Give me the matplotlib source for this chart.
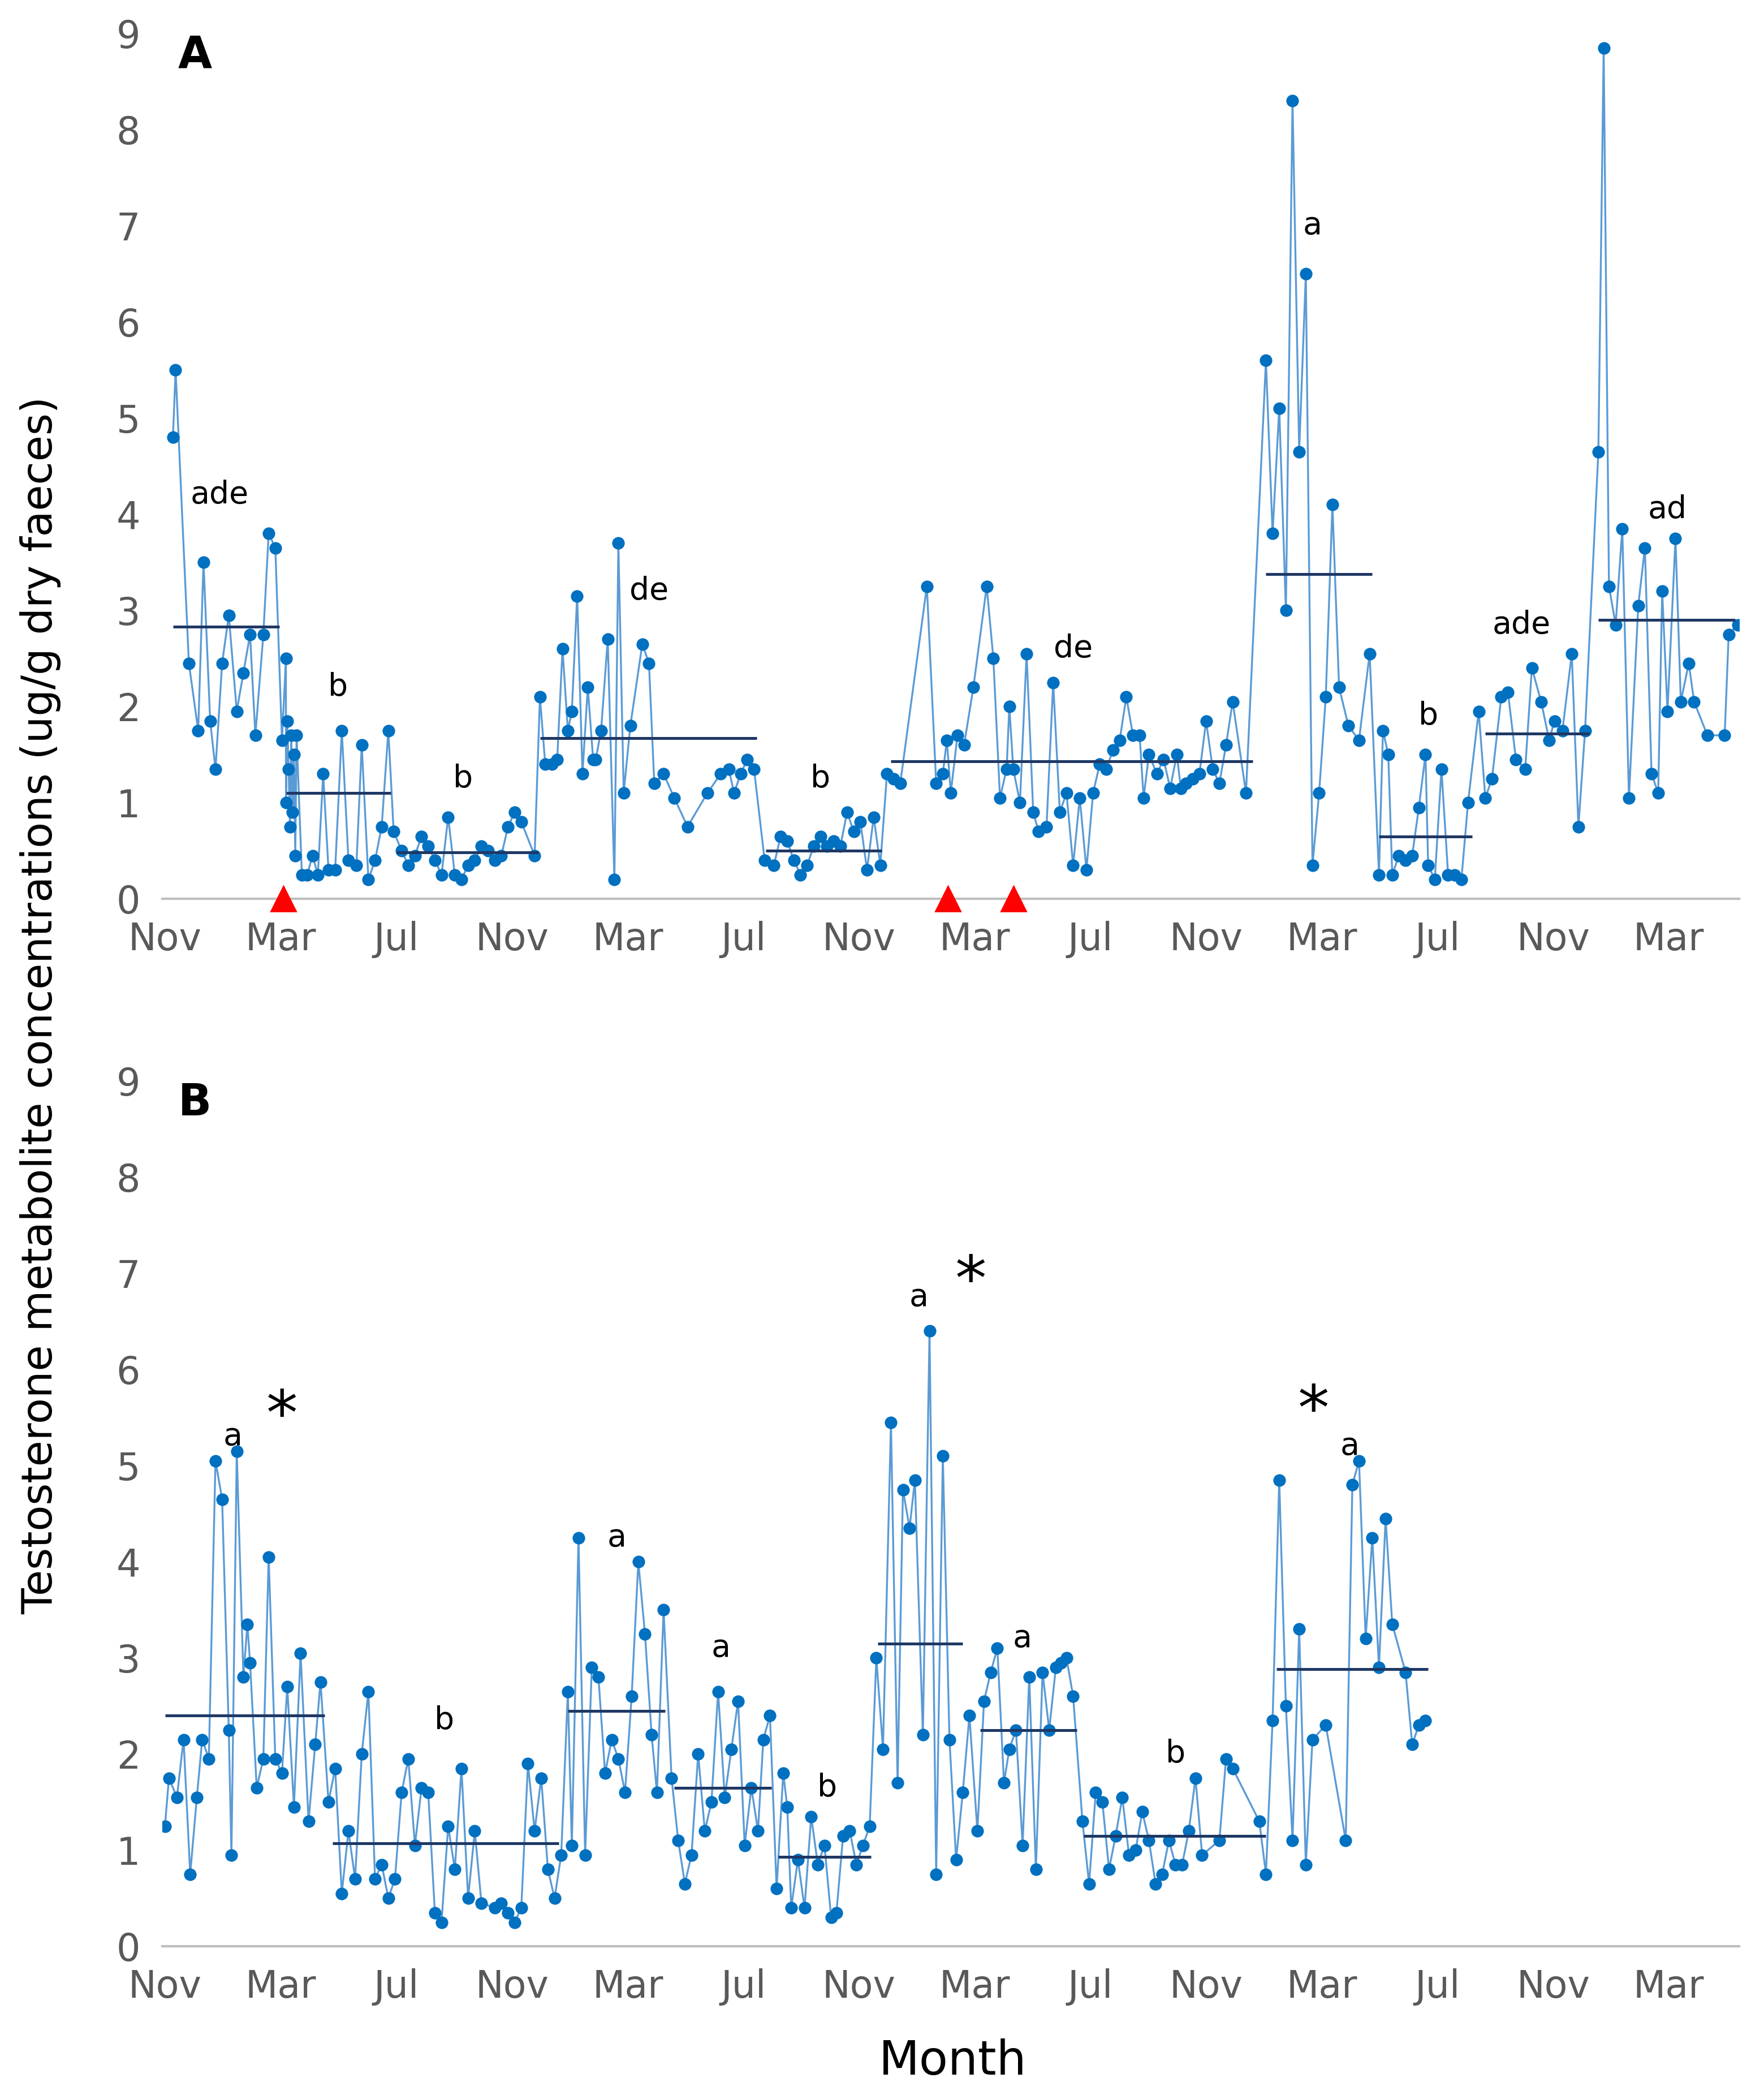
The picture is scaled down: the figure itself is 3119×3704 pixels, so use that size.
import matplotlib
matplotlib.use("Agg")
import matplotlib.pyplot as plt
import numpy as np

# x positions are on a sample-position scale (one tick interval = 4 months = 87 units, Nov at 122)
a_x = [128,130,140,147,151,156,160,165,170,176,181,186,190,196,200,205,210,213,213,214,215,216,217,218,219,220,221,225,229,233,237,241,245,250,255,260,266,270,275,280,285,290,294,300,305,310,315,320,325,330,335,340,345,350,355,360,365,370,375,380,385,390,400,404,408,413,417,421,425,428,432,436,440,444,446,450,455,460,463,467,472,481,486,490,497,505,515,530,540,546,550,555,560,565,573,580,585,590,595,600,605,610,615,620,625,630,635,640,645,650,655,660,665,670,675,695,702,707,710,713,718,723,730,740,745,750,755,757,760,765,770,775,779,785,790,795,800,805,810,815,820,825,830,835,840,845,850,855,858,862,868,873,878,883,886,890,895,900,905,910,915,920,925,935,950,955,960,965,970,975,980,985,990,995,1000,1005,1012,1020,1028,1035,1038,1042,1045,1050,1055,1060,1065,1070,1072,1077,1082,1087,1092,1097,1102,1110,1115,1120,1127,1132,1138,1145,1150,1157,1163,1167,1173,1180,1185,1190,1200,1204,1208,1213,1218,1223,1230,1235,1240,1245,1248,1252,1258,1262,1268,1272,1282,1295,1298,1305]
a_y = [4.8,5.5,2.45,1.75,3.5,1.85,1.35,2.45,2.95,1.95,2.35,2.75,1.7,2.75,3.8,3.65,1.65,2.5,1.0,1.85,1.35,0.75,1.7,0.9,1.5,0.45,1.7,0.25,0.25,0.45,0.25,1.3,0.3,0.3,1.75,0.4,0.35,1.6,0.2,0.4,0.75,1.75,0.7,0.5,0.35,0.45,0.65,0.55,0.4,0.25,0.85,0.25,0.2,0.35,0.4,0.55,0.5,0.4,0.45,0.75,0.9,0.8,0.45,2.1,1.4,1.4,1.45,2.6,1.75,1.95,3.15,1.3,2.2,1.45,1.45,1.75,2.7,0.2,3.7,1.1,1.8,2.65,2.45,1.2,1.3,1.05,0.75,1.1,1.3,1.35,1.1,1.3,1.45,1.35,0.4,0.35,0.65,0.6,0.4,0.25,0.35,0.55,0.65,0.55,0.6,0.55,0.9,0.7,0.8,0.3,0.85,0.35,1.3,1.25,1.2,3.25,1.2,1.3,1.65,1.1,1.7,1.6,2.2,3.25,2.5,1.05,1.35,2.0,1.35,1.0,2.55,0.9,0.7,0.75,2.25,0.9,1.1,0.35,1.05,0.3,1.1,1.4,1.35,1.55,1.65,2.1,1.7,1.7,1.05,1.5,1.3,1.45,1.15,1.5,1.15,1.2,1.25,1.3,1.85,1.35,1.2,1.6,2.05,1.1,5.6,3.8,5.1,3.0,8.3,4.65,6.5,0.35,1.1,2.1,4.1,2.2,1.8,1.65,2.55,0.25,1.75,1.5,0.25,0.45,0.4,0.45,0.95,1.5,0.35,0.2,1.35,0.25,0.25,0.2,1.0,1.95,1.05,1.25,2.1,2.15,1.45,1.35,2.4,2.05,1.65,1.85,1.75,2.55,0.75,1.75,4.65,8.85,3.25,2.85,3.85,1.05,3.05,3.65,1.3,1.1,3.2,1.95,3.75,2.05,2.45,2.05,1.7,1.7,2.75,2.85]
a_mean_start = [128,213,296,404,574,668,950,1035,1115,1200]
a_mean_end = [208,292,403,567,661,940,1030,1105,1193,1303]
a_mean = [2.83,1.1,0.48,1.67,0.5,1.43,3.38,0.65,1.72,2.9]
a_lab = ["ade","b","b","de","b","de","a","b","ade","ad"]
a_lab_x = [163,252,346,486,615,805,985,1072,1142,1252]
a_lab_y = [4.2,2.2,1.25,3.2,1.25,2.6,7.0,1.9,2.85,4.05]
tri_x = [211,711,760]

b_x = [122,125,131,136,141,146,150,155,160,165,170,172,176,181,184,186,191,196,200,205,210,214,219,224,230,235,239,245,250,255,260,265,270,275,280,285,290,295,300,305,310,315,320,325,330,335,340,345,350,355,360,370,375,380,385,390,395,400,405,410,415,420,425,428,433,438,443,448,453,458,463,468,473,478,483,488,492,497,503,508,513,518,523,528,533,538,543,548,553,558,563,568,572,577,582,587,590,593,598,603,608,613,618,623,627,632,637,642,647,652,657,662,668,673,677,682,686,692,697,702,707,712,717,722,727,733,738,743,748,753,757,762,767,772,777,782,787,792,796,800,805,812,817,822,827,832,837,842,847,852,857,862,867,872,877,882,887,892,897,902,915,920,925,945,950,955,960,965,970,975,980,985,995,1010,1015,1020,1025,1030,1035,1040,1045,1055,1060,1065,1070]
b_y = [1.25,1.75,1.55,2.15,0.75,1.55,2.15,1.95,5.05,4.65,2.25,0.95,5.15,2.8,3.35,2.95,1.65,1.95,4.05,1.95,1.8,2.7,1.45,3.05,1.3,2.1,2.75,1.5,1.85,0.55,1.2,0.7,2.0,2.65,0.7,0.85,0.5,0.7,1.6,1.95,1.05,1.65,1.6,0.35,0.25,1.25,0.8,1.85,0.5,1.2,0.45,0.4,0.45,0.35,0.25,0.4,1.9,1.2,1.75,0.8,0.5,0.95,2.65,1.05,4.25,0.95,2.9,2.8,1.8,2.15,1.95,1.6,2.6,4.0,3.25,2.2,1.6,3.5,1.75,1.1,0.65,0.95,2.0,1.2,1.5,2.65,1.55,2.05,2.55,1.05,1.65,1.2,2.15,2.4,0.6,1.8,1.45,0.4,0.9,0.4,1.35,0.85,1.05,0.3,0.35,1.15,1.2,0.85,1.05,1.25,3.0,2.05,5.45,1.7,4.75,4.35,4.85,2.2,6.4,0.75,5.1,2.15,0.9,1.6,2.4,1.2,2.55,2.85,3.1,1.7,2.05,2.25,1.05,2.8,0.8,2.85,2.25,2.9,2.95,3.0,2.6,1.3,0.65,1.6,1.5,0.8,1.15,1.55,0.95,1.0,1.4,1.1,0.65,0.75,1.1,0.85,0.85,1.2,1.75,0.95,1.1,1.95,1.85,1.3,0.75,2.35,4.85,2.5,1.1,3.3,0.85,2.15,2.3,1.1,4.8,5.05,3.2,4.25,2.9,4.45,3.35,2.85,2.1,2.3,2.35]
b_mean_start = [122,248,425,505,583,658,735,813,958]
b_mean_end = [242,418,498,578,653,722,808,950,1072]
b_mean = [2.4,1.07,2.45,1.65,0.93,3.15,2.25,1.15,2.88]
b_lab = ["a","b","a","a","b","a","a","b","a"]
b_lab_x = [173,332,462,540,620,689,767,882,1013]
b_lab_y = [5.3,2.35,4.25,3.1,1.65,6.75,3.2,2.0,5.2]
star_x = [210,728,986]
star_y = [5.5,6.9,5.55]

month_labels = ["Nov","Mar","Jul"] * 4 + ["Nov","Mar"]
tick_pos = [122 + 87*k for k in range(len(month_labels))]

fig = plt.figure(figsize=(15.595, 18.52), dpi=200)
axA = fig.add_axes([0.092, 0.571, 0.894, 0.413])
axB = fig.add_axes([0.092, 0.071, 0.894, 0.413])
LINE = "#5b9bd5"; MK = "#0070c0"; MEAN = "#1f3864"; GR = "#595959"

def style(ax):
    ax.set_xlim(120, 1306)
    ax.set_ylim(0, 9)
    ax.set_yticks(range(10))
    ax.set_xticks(tick_pos)
    ax.set_xticklabels(month_labels)
    for s in ["top","right","left"]:
        ax.spines[s].set_visible(False)
    ax.spines["bottom"].set_color("#bfbfbf")
    ax.spines["bottom"].set_linewidth(1.5)
    ax.tick_params(axis="both", length=0, labelsize=24, colors=GR, pad=14)
    ax.set_facecolor("none")

for ax, xs, ys, ms, me, mv, labs, lx, ly in [
        (axA, a_x, a_y, a_mean_start, a_mean_end, a_mean, a_lab, a_lab_x, a_lab_y),
        (axB, b_x, b_y, b_mean_start, b_mean_end, b_mean, b_lab, b_lab_x, b_lab_y)]:
    style(ax)
    ax.plot(xs, ys, color=LINE, lw=1.2, marker="o", ms=7, mfc=MK, mec=MK, zorder=3)
    ax.hlines(mv, ms, me, color=MEAN, lw=1.8, zorder=4)
    for t, x, y in zip(labs, lx, ly):
        ax.text(x, y, t, fontsize=20, ha="center", va="center", color="black")

axA.plot(tri_x, [0]*len(tri_x), marker="^", ls="none", color="red", ms=16, clip_on=False, zorder=5)
for x, y in zip(star_x, star_y):
    axB.text(x, y, "*", fontsize=40, ha="center", va="center", color="black")

axA.text(0.01, 0.975, "A", transform=axA.transAxes, fontsize=28, fontweight="bold", va="center")
axB.text(0.01, 0.975, "B", transform=axB.transAxes, fontsize=28, fontweight="bold", va="center")
fig.text(0.023, 0.52, "Testosterone metabolite concentrations (ug/g dry faeces)",
         rotation=90, fontsize=27, ha="center", va="center")
fig.text(0.54, 0.016, "Month", fontsize=30, ha="center", va="center")
fig.savefig("out.png", dpi=200, facecolor="white")
